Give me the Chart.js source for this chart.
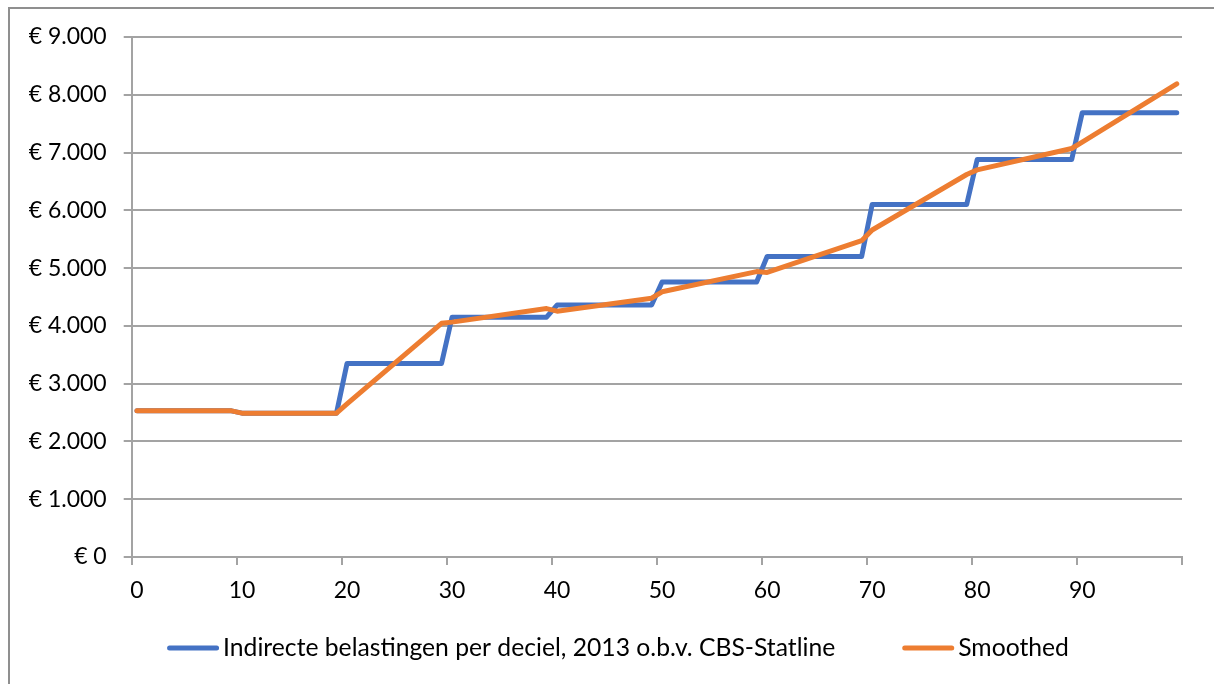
<!DOCTYPE html>
<html>
<head>
<meta charset="utf-8">
<script src="https://cdn.jsdelivr.net/npm/chart.js@4/dist/chart.umd.min.js"></script>
<style>
  html, body { margin: 0; padding: 0; background: #fff; overflow: hidden; }
  #wrap { position: relative; width: 1214px; height: 684px; }
  #frame { position: absolute; left: 8px; top: 7px; width: 1300px; height: 800px; border: 2px solid #8f8f8f; box-sizing: border-box; }
  #chart { position: absolute; left: 0; top: 0; }
</style>
</head>
<body>
<div id="wrap">
  <div id="frame"></div>
  <canvas id="chart" width="1214" height="684"></canvas>
</div>
<script>
// percentile positions (0..99) where the lines have a vertex
const rawX = [0, 9, 10, 19, 20, 29, 30, 39, 40, 49, 50, 59, 60, 69, 70, 79, 80, 89, 90, 99];
const rawY = [2530, 2530, 2490, 2490, 3350, 3350, 4150, 4150, 4360, 4360, 4760, 4760, 5200, 5200, 6100, 6100, 6880, 6880, 7690, 7690];

const smoothX = [0, 9, 10, 19, 20, 29, 30, 39, 40, 49, 50, 59, 60, 69, 70, 79, 80, 89, 90, 99];
const smoothY = [2530, 2530, 2490, 2490, 2650, 4045, 4065, 4300, 4255, 4480, 4590, 4940, 4925, 5475, 5660, 6620, 6700, 7070, 7180, 8190];

// x tick marks sit on the decile boundaries, labels are centred on the first category
const xTickValues = [-0.5, 9.5, 19.5, 29.5, 39.5, 49.5, 59.5, 69.5, 79.5, 89.5, 99.5];
const xTickLabels = ['0', '10', '20', '30', '40', '50', '60', '70', '80', '90', ''];

const rawLabel = 'Indirecte belastingen per deciel, 2013 o.b.v. CBS-Statline';
const smoothLabel = 'Smoothed';

function euro(v) {
  return '€ ' + String(v).replace(/\B(?=(\d{3})+(?!\d))/g, '.');
}

const gridColor = '#a3a3a3';
Chart.defaults.font.family = 'Lato';
Chart.defaults.color = '#000';

// legend drawn by hand so the gap between the two entries matches the original
const bottomLegend = {
  id: 'bottomLegend',
  afterDraw(chart) {
    const c = chart.ctx;
    const lineLen = 52, textGap = 4, itemGap = 67, y = 648;
    c.save();
    c.font = '24.7px Lato';
    c.textBaseline = 'middle';
    const items = chart.data.datasets.map(ds => ({ ds: ds, w: lineLen + textGap + c.measureText(ds.label).width }));
    const total = items.reduce((s, it) => s + it.w, 0) + itemGap * (items.length - 1);
    let x = 618 - total / 2;
    items.forEach(it => {
      c.strokeStyle = it.ds.borderColor;
      c.lineWidth = 5;
      c.lineCap = 'round';
      c.beginPath();
      c.moveTo(x + 2.5, y);
      c.lineTo(x + lineLen - 2.5, y);
      c.stroke();
      c.fillStyle = '#000';
      c.fillText(it.ds.label, x + lineLen + textGap, y);
      x += it.w + itemGap;
    });
    c.restore();
  }
};

const ctx = document.getElementById('chart').getContext('2d');
new Chart(ctx, {
  type: 'line',
  data: {
    datasets: [{
      label: rawLabel,
      data: rawX.map((x, i) => ({ x: x, y: rawY[i] })),
      borderColor: '#4472C4',
      backgroundColor: '#4472C4',
      borderWidth: 5,
      borderCapStyle: 'round',
      borderJoinStyle: 'round',
      pointRadius: 0,
      tension: 0,
      order: 1
    }, {
      label: smoothLabel,
      data: smoothX.map((x, i) => ({ x: x, y: smoothY[i] })),
      borderColor: '#ED7D31',
      backgroundColor: '#ED7D31',
      borderWidth: 5,
      borderCapStyle: 'round',
      borderJoinStyle: 'round',
      pointRadius: 0,
      tension: 0,
      order: 0
    }]
  },
  options: {
    responsive: false,
    animation: false,
    layout: {
      padding: { left: 0, right: 32, top: 37, bottom: 67 }
    },
    scales: {
      x: {
        type: 'linear',
        min: -0.5,
        max: 99.5,
        afterBuildTicks: (scale) => {
          scale.ticks = xTickValues.map(v => ({ value: v }));
        },
        afterFit: (scale) => { scale.height = 60; },
        ticks: {
          autoSkip: false,
          maxRotation: 0,
          padding: 12,
          labelOffset: 5.25,
          font: { size: 23 },
          callback: (v, i) => xTickLabels[i]
        },
        grid: {
          drawOnChartArea: false,
          tickLength: 8,
          color: gridColor,
          lineWidth: 2
        },
        border: { color: gridColor, width: 2 }
      },
      y: {
        min: 0,
        max: 9000,
        afterFit: (scale) => { scale.width = 131.7; },
        ticks: {
          stepSize: 1000,
          padding: 17,
          font: { size: 23 },
          callback: (v) => euro(v)
        },
        grid: {
          tickLength: 8,
          color: gridColor,
          lineWidth: 2
        },
        border: { color: gridColor, width: 2 }
      }
    },
    plugins: {
      legend: { display: false },
      tooltip: { enabled: false }
    }
  },
  plugins: [bottomLegend]
});
</script>
</body>
</html>
